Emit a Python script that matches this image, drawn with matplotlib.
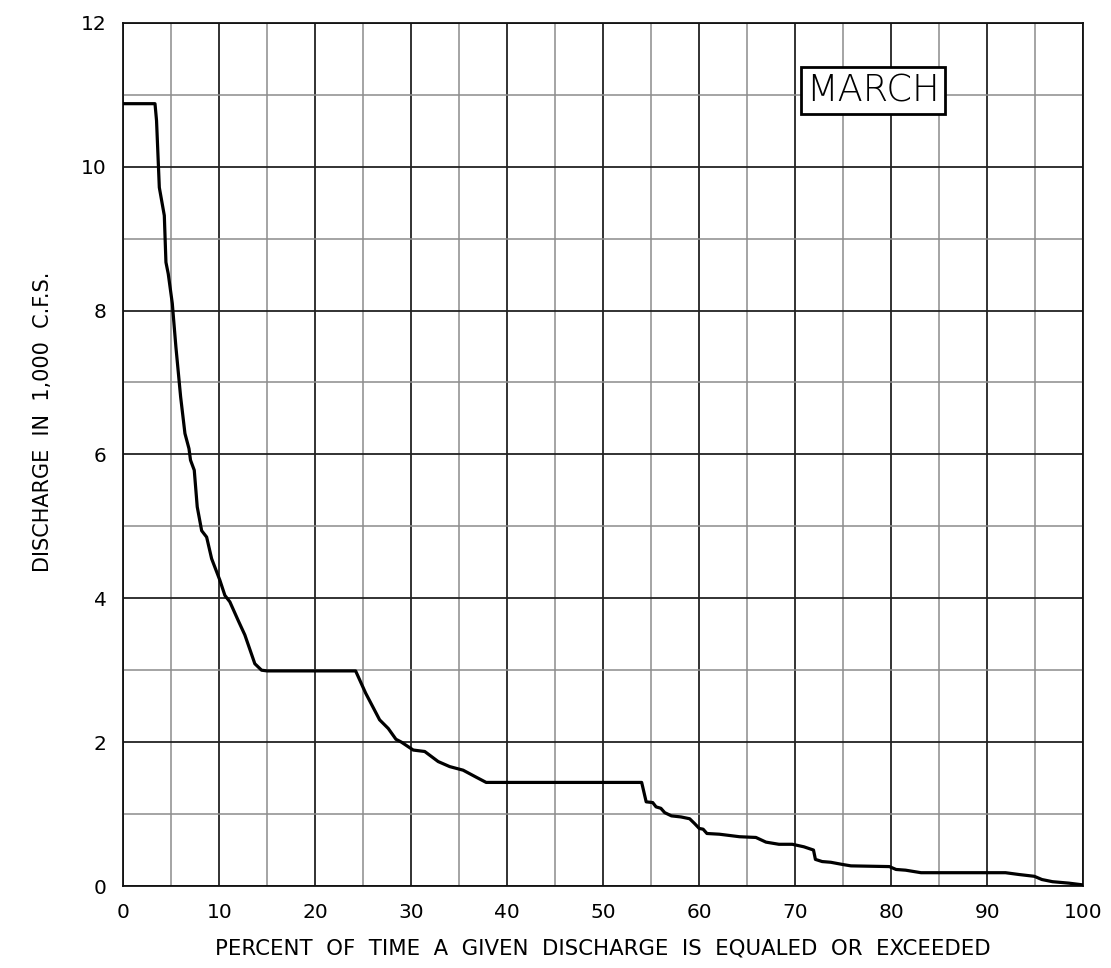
import matplotlib
matplotlib.use("Agg")
import matplotlib.pyplot as plt
from matplotlib.ticker import MultipleLocator

# Flow-duration curve for March: percent of time exceeded vs discharge (1,000 cfs)
percent_exceeded = [
    0.0, 3.3, 3.46, 3.75, 4.27, 4.44, 4.68, 5.1, 5.48, 5.97, 6.42, 6.84, 7.0,
    7.39, 7.70, 8.16, 8.68, 9.2, 10.06, 10.58, 11.1, 11.97, 12.66, 13.7, 14.4,
    15.0, 24.2, 25.25, 26.7, 27.6, 28.4, 28.97, 30.2, 31.4, 32.8, 34.0, 35.4,
    36.8, 37.8, 54.0, 54.47, 55.15, 55.5, 56.0, 56.4, 57.1, 58.1, 59.0, 59.5,
    60.0, 60.4, 60.8, 62.1, 64.2, 65.9, 66.95, 68.3, 69.7, 70.9, 71.9, 72.1,
    72.8, 73.7, 74.9, 75.8, 79.8, 80.5, 81.5, 83.1, 91.9, 93.3, 94.9, 95.7,
    96.8, 98.5, 100.0,
]
discharge_kcfs = [
    10.875, 10.875, 10.64, 9.71, 9.32, 8.67, 8.51, 8.1, 7.49, 6.80, 6.29, 6.08,
    5.92, 5.78, 5.27, 4.94, 4.85, 4.55, 4.25, 4.04, 3.95, 3.69, 3.49, 3.09,
    3.0, 2.99, 2.99, 2.68, 2.31, 2.19, 2.04, 2.00, 1.89, 1.87, 1.73, 1.66, 1.61,
    1.51, 1.44, 1.44, 1.17, 1.16, 1.10, 1.08, 1.02, 0.975, 0.96, 0.935, 0.87,
    0.80, 0.79, 0.73, 0.72, 0.685, 0.675, 0.61, 0.58, 0.58, 0.545, 0.50, 0.37,
    0.34, 0.33, 0.30, 0.28, 0.27, 0.23, 0.22, 0.185, 0.185, 0.16, 0.135, 0.09,
    0.06, 0.04, 0.015,
]

x_ticks = [0, 10, 20, 30, 40, 50, 60, 70, 80, 90, 100]
y_ticks = [0, 2, 4, 6, 8, 10, 12]
month_label = "MARCH"
x_label = "PERCENT  OF  TIME  A  GIVEN  DISCHARGE  IS  EQUALED  OR  EXCEEDED"
y_label = "DISCHARGE  IN  1,000  C.F.S."

plt.rcParams["font.family"] = ["DejaVu Sans"]

fig = plt.figure(figsize=(11.11, 9.68), dpi=100)
ax = fig.add_axes([0.111, 0.0847, 0.864, 0.8918])

ax.set_xlim(0, 100)
ax.set_ylim(0, 12)
ax.set_xticks(x_ticks)
ax.set_yticks(y_ticks)
ax.xaxis.set_minor_locator(MultipleLocator(5))
ax.yaxis.set_minor_locator(MultipleLocator(1))

ax.grid(which="major", color="#222222", linewidth=1.3)
ax.grid(which="minor", color="#8c8c8c", linewidth=1.1)
ax.set_axisbelow(True)
ax.tick_params(which="both", length=0)
ax.tick_params(axis="x", pad=12, labelsize=14.5)
ax.tick_params(axis="y", pad=12, labelsize=14.5)
for spine in ax.spines.values():
    spine.set_color("#111111")
    spine.set_linewidth(1.3)

ax.plot(percent_exceeded, discharge_kcfs, color="black", linewidth=2.3,
        solid_joinstyle="round", zorder=3)

ax.text(78.1, 11.06, month_label, fontsize=26.5, fontweight="light",
        ha="center", va="center", zorder=4,
        bbox=dict(boxstyle="square,pad=0.14", facecolor="white",
                  edgecolor="black", linewidth=2.0))

ax.set_xlabel(x_label, fontsize=15.3, labelpad=12)
ax.set_ylabel(y_label, fontsize=15)
ax.yaxis.set_label_coords(-0.073, 0.538)

fig.savefig("out.png", dpi=100, facecolor="white")
